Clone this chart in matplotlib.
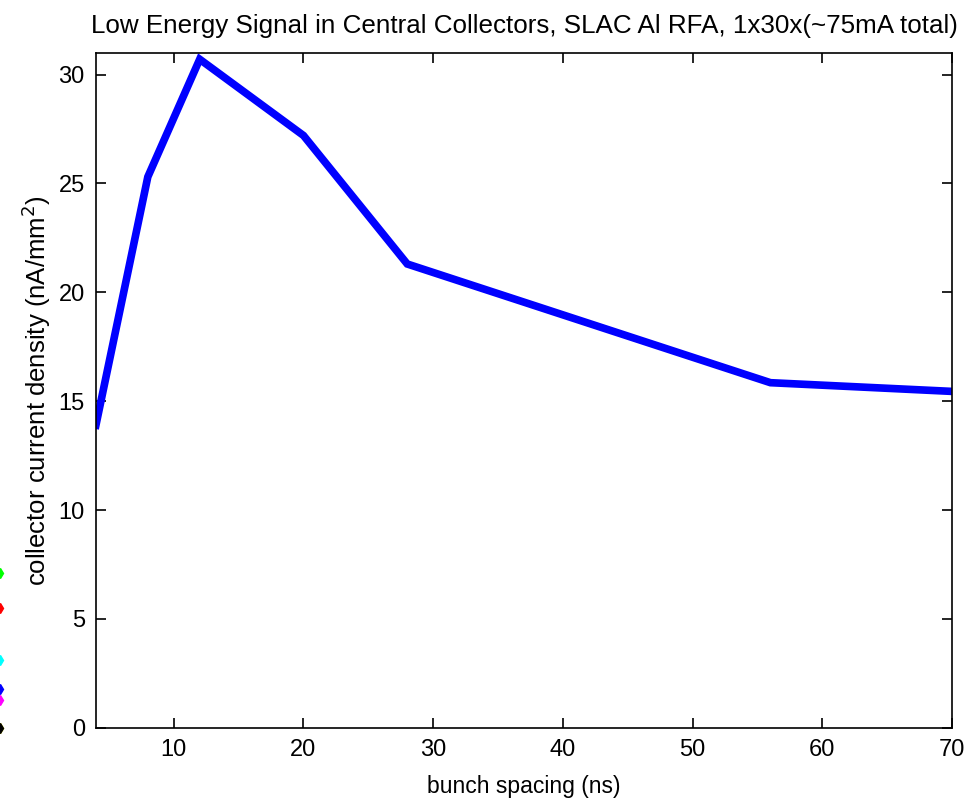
import matplotlib
matplotlib.use("Agg")
import matplotlib.pyplot as plt

plt.rcParams['font.family'] = ['Liberation Sans', 'DejaVu Sans']

# bunch spacing (ns) vs collector current density (nA/mm^2)
spacing = [4, 8, 12, 20, 28, 56, 70]
density = [13.9, 25.3, 30.7, 27.2, 21.3, 15.85, 15.45]

# stray markers left of the axes (other series at the figure edge)
stray_y = [7.1, 5.5, 3.1, 1.8, 1.3, 0.0, 0.0]
stray_colors = ['#00ff00', '#ff0000', '#00ffff', '#0000ff', '#ff00ff', '#ffff00', '#000000']

fig = plt.figure(figsize=(9.69, 7.99), dpi=100)
ax = fig.add_axes([0.099, 0.089, 0.8835, 0.845])

ax.plot(spacing, density, color='#0000ff', linewidth=5.5, solid_joinstyle='miter')

for y, c in zip(stray_y, stray_colors):
    ax.plot([-3.4], [y], marker='d', markersize=5, color=c, clip_on=False)

ax.set_xlim(4, 70)
ax.set_ylim(0, 31)
ax.set_xticks([10, 20, 30, 40, 50, 60, 70])
ax.set_yticks([0, 5, 10, 15, 20, 25, 30])
ax.tick_params(direction='in', length=7, width=1.2, top=True, right=True,
               labelsize=17, pad=8)
for s in ax.spines.values():
    s.set_linewidth(1.2)

ax.set_title('Low Energy Signal in Central Collectors, SLAC Al RFA, 1x30x(~75mA total)',
             fontsize=18.7, pad=14)
ax.set_xlabel('bunch spacing (ns)', fontsize=16.5, labelpad=10)
ax.set_ylabel('collector current density (nA/mm$^2$)', fontsize=18.5, labelpad=4)

fig.savefig('out.png', dpi=100)
